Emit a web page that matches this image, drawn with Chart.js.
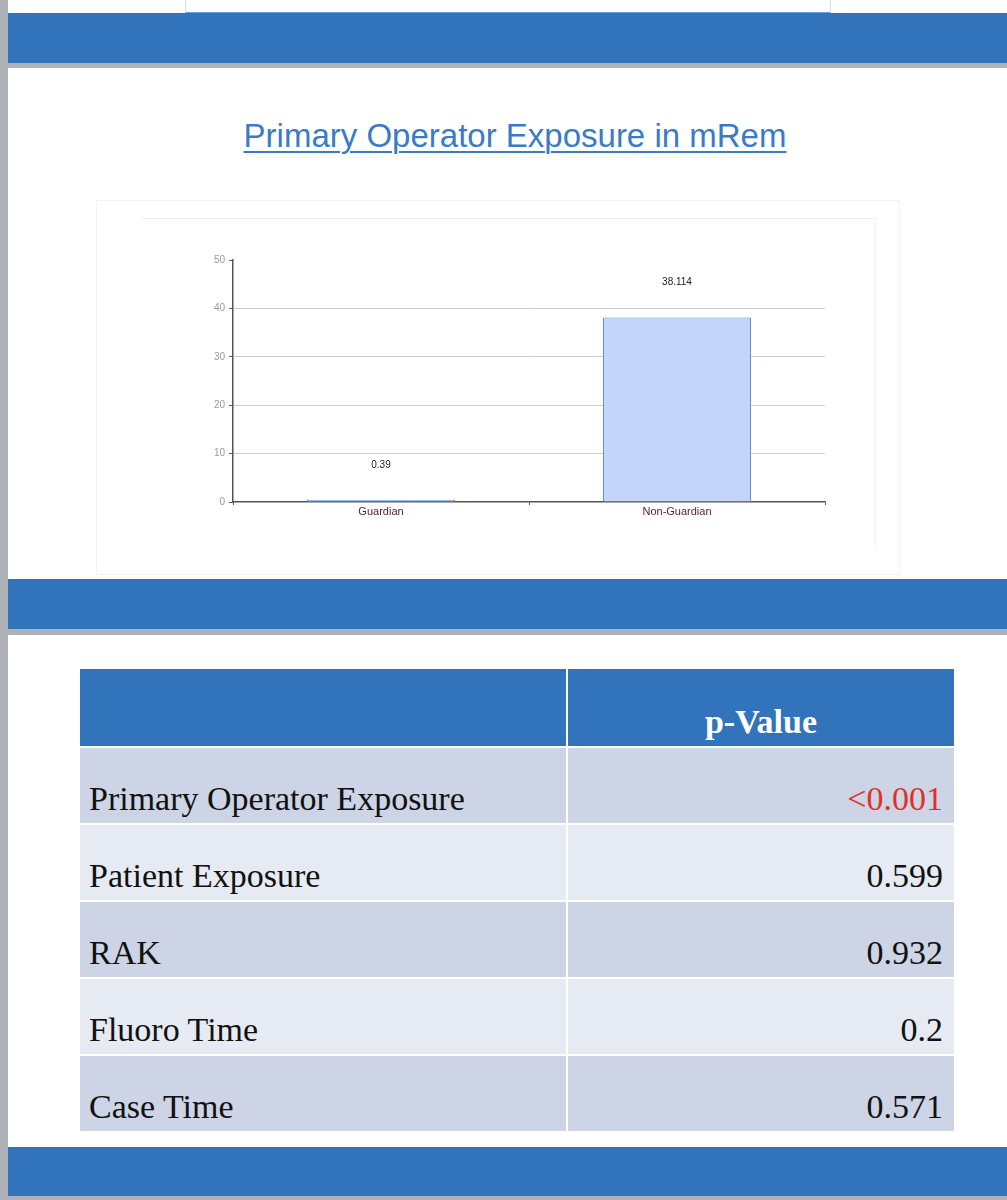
<!DOCTYPE html>
<html>
<head>
<meta charset="utf-8">
<script src="https://cdn.jsdelivr.net/npm/chart.js@4.4.1/dist/chart.umd.min.js"></script>
<style>
  html, body { margin: 0; padding: 0; }
  body { width: 1007px; height: 1200px; background: #aeb2b6; position: relative; overflow: hidden; font-family: "Liberation Sans", Arial, sans-serif; }
  .white { position: absolute; left: 8px; right: 0; background: #fff; }
  .band { position: absolute; left: 8px; right: 0; background: #3174bc; }
  .title { position: absolute; left: 0; width: 1030px; top: 117px; text-align: center; font-size: 33px; line-height: 38px; color: #3b7bc6; text-decoration: underline; text-decoration-thickness: 2px; text-underline-offset: 4px; }
  #box { position: absolute; left: 96px; top: 200px; width: 804px; height: 375px; border: 1px solid #f1f1f1; box-sizing: border-box; }
  #inner { position: absolute; left: 142px; top: 218px; width: 733px; height: 330px; border-top: 1px solid #eeeeee; border-right: 1px solid #f3f3f3; }
  #wrap { position: absolute; left: 180px; top: 240px; width: 660px; height: 300px; }
  table { position: absolute; left: 78px; top: 667px; border-collapse: separate; border-spacing: 2px; font-family: "Liberation Serif", "Times New Roman", serif; font-size: 34px; }
  td { padding: 0 10px 6px 9px; vertical-align: bottom; height: 69px; line-height: 36px; color: #111; }
  td.v { text-align: right; padding-right: 11px; }
  th { background: #3174bc; height: 71px; line-height: 36px; color: #fff; font-weight: bold; vertical-align: bottom; padding: 0 0 6px 0; }
</style>
</head>
<body>
<div class="white" style="top:0;height:13px;"></div>
<div style="position:absolute;left:185px;top:0;width:644px;height:12px;border-left:1px solid #ddd;border-right:1px solid #ddd;border-bottom:2px solid #6aa0de;"></div>
<div class="band" style="top:13px;height:50px;"></div>
<div class="white" style="top:68px;height:511px;"></div>
<div class="title">Primary Operator Exposure in mRem</div>
<div id="box"></div>
<div id="inner"></div>
<div id="wrap"><canvas id="exposureChart"></canvas></div>
<div class="band" style="top:579px;height:50px;"></div>
<div class="white" style="top:635px;height:512px;"></div>
<table id="pTable"></table>
<div class="band" style="top:1147px;height:49px;"></div>

<script>
var groups = ["Guardian", "Non-Guardian"];
var exposure = [0.39, 38.114];
var exposureLabels = ["0.39", "38.114"];

var measures = ["Primary Operator Exposure", "Patient Exposure", "RAK", "Fluoro Time", "Case Time"];
var pValues = ["<0.001", "0.599", "0.932", "0.2", "0.571"];
var rowColors = ["#cdd4e5", "#e6eaf3", "#cdd4e5", "#e6eaf3", "#cdd4e5"];

// table
var tbl = document.getElementById("pTable");
var html = '<tr><th style="width:486px"></th><th style="width:386px">p-Value</th></tr>';
for (var i = 0; i < measures.length; i++) {
    var red = pValues[i].charAt(0) == "<" ? ' style="color:#e0302c;background:' + rowColors[i] + '"' : ' style="background:' + rowColors[i] + '"';
    html += '<tr><td style="background:' + rowColors[i] + '">' + measures[i] + '</td><td class="v"' + red + '>' + pValues[i].replace("<", "&lt;") + '</td></tr>';
}
tbl.innerHTML = html;

// value labels above bars
var valueLabels = {
    id: "valueLabels",
    afterDatasetsDraw: function (chart) {
        var ctx = chart.ctx;
        var meta = chart.getDatasetMeta(0);
        ctx.save();
        ctx.font = "10px 'Liberation Sans', Arial, sans-serif";
        ctx.fillStyle = "#222";
        ctx.textAlign = "center";
        ctx.textBaseline = "middle";
        meta.data.forEach(function (bar, i) {
            ctx.fillText(exposureLabels[i], bar.x, bar.y - 35);
        });
        ctx.restore();
    }
};

var exposurechart = document.getElementById("exposureChart").getContext('2d');
var myBarChart = new Chart(exposurechart, {
    type: 'bar',
    data: {
        labels: groups,
        datasets: [
            {
                label: "mRem",
                backgroundColor: "#c3d6f9",
                borderColor: "#5b94da",
                borderWidth: 1,
                categoryPercentage: 0.5,
                barPercentage: 1,
                data: exposure
            }
        ]
    },
    options: {
        responsive: true,
        maintainAspectRatio: false,
        animation: false,
        layout: { padding: { top: 20, right: 15, left: 0, bottom: 0 } },
        plugins: {
            legend: { display: false },
            tooltip: { enabled: false }
        },
        scales: {
            x: {
                grid: { drawOnChartArea: false, drawTicks: true, tickLength: 3, tickColor: "#555" },
                border: { color: "#555", width: 1.5 },
                ticks: { color: "#5c2232", padding: 0, font: { size: 11, family: "'Liberation Sans', Arial, sans-serif" } },
                afterFit: function (scale) { scale.height = 38; }
            },
            y: {
                min: 0,
                max: 50,
                ticks: { stepSize: 10, color: "#9a9a9a", padding: 4, font: { size: 10, family: "'Liberation Sans', Arial, sans-serif" } },
                grid: {
                    tickLength: 4,
                    tickColor: "#555",
                    color: function (c) { return (c.tick && (c.tick.value == 50 || c.tick.value == 0)) ? "rgba(0,0,0,0)" : "#cfcfcf"; }
                },
                border: { color: "#555", width: 1.5 },
                afterFit: function (scale) { scale.width = 53; }
            }
        }
    },
    plugins: [valueLabels]
});
</script>
</body>
</html>
